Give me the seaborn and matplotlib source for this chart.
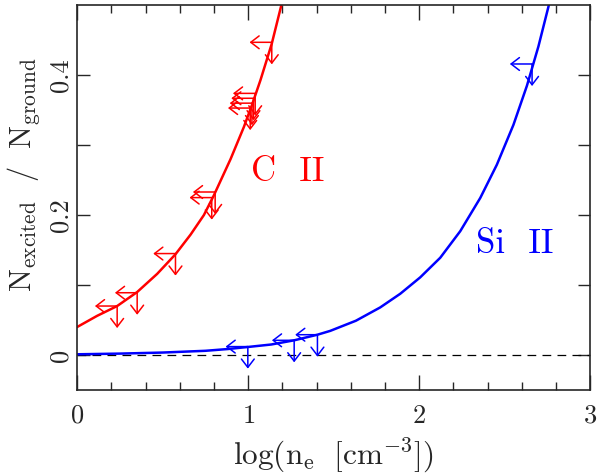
import numpy as np
import matplotlib
matplotlib.use('Agg')
import matplotlib.pyplot as plt
import seaborn as sns

# model curves
c2_x = [0, 0.117, 0.234, 0.351, 0.468, 0.575, 0.663, 0.741, 0.799, 0.897, 0.975, 1.023, 1.072, 1.138, 1.197]
c2_y = [0.040, 0.056, 0.070, 0.090, 0.116, 0.144, 0.172, 0.200, 0.228, 0.280, 0.326, 0.358, 0.393, 0.445, 0.503]
si2_x = [0, 0.25, 0.5, 0.75, 0.88, 1.0, 1.135, 1.269, 1.405, 1.48, 1.63, 1.772, 1.889, 2.006,
         2.123, 2.24, 2.357, 2.454, 2.551, 2.63, 2.697, 2.762]
si2_y = [0.001, 0.002, 0.0035, 0.006, 0.0085, 0.0115, 0.015, 0.021, 0.029, 0.0345, 0.049, 0.068, 0.0875, 0.111,
         0.139, 0.177, 0.2245, 0.272, 0.329, 0.385, 0.441, 0.504]

# upper limits (points)
c2_lim_x = [0.234, 0.351, 0.575, 0.787, 0.807, 1.012, 1.022, 1.031, 1.041, 1.138]
c2_lim_y = [0.070, 0.089, 0.145, 0.225, 0.233, 0.353, 0.360, 0.367, 0.374, 0.447]
si2_lim_x = [0.998, 1.269, 1.405, 2.66]
si2_lim_y = [0.012, 0.021, 0.029, 0.416]

sns.set_style('ticks')
plt.rcParams['font.family'] = 'serif'
plt.rcParams['font.serif'] = ['cmr10', 'DejaVu Serif']
plt.rcParams['mathtext.fontset'] = 'cm'
plt.rcParams['axes.formatter.use_mathtext'] = True

fig = plt.figure(figsize=(5.98, 4.75), dpi=100)
ax = fig.add_axes([0.129, 0.179, 0.858, 0.81])

sns.lineplot(x=c2_x, y=c2_y, color='#ff0000', lw=1.8, ax=ax)
sns.lineplot(x=si2_x, y=si2_y, color='#0000ff', lw=1.8, ax=ax)
ax.axhline(0, color='black', lw=0.9, ls=(0, (7, 5)), zorder=1)

# arrow lengths for the limits
dx, dy = 0.13, 0.0315
def limits(xs, ys, col):
    for x, y in zip(xs, ys):
        for hx, hy in [(x - dx, y), (x, y - dy)]:
            ax.annotate('', xy=(hx, hy), xytext=(x, y),
                        arrowprops=dict(arrowstyle='->,head_length=0.6,head_width=0.46',
                                        color=col, lw=1.1, shrinkA=0, shrinkB=0))

limits(c2_lim_x, c2_lim_y, '#ff0000')
limits(si2_lim_x, si2_lim_y, '#0000ff')

ax.text(1.23, 0.262, 'C  II', color='#ff0000', fontsize=25, ha='center', va='center')
ax.text(2.56, 0.159, 'Si  II', color='#0000ff', fontsize=25, ha='center', va='center')

ax.set_xlim(0, 3)
ax.set_ylim(-0.05, 0.5)
ax.set_xticks([0, 1, 2, 3])
ax.set_xticks(np.arange(0, 3.01, 0.2), minor=True)
ax.set_yticks([0, 0.1, 0.2, 0.3, 0.4], labels=['0', '', '0.2', '', '0.4'])
ax.tick_params(which='both', direction='in', top=True, right=True, width=1, labelsize=19)
ax.tick_params(which='major', axis='x', length=11)
ax.tick_params(which='minor', axis='x', length=6)
ax.tick_params(axis='y', length=9)
ax.tick_params(axis='x', pad=10)
for lab in ax.get_yticklabels():
    lab.set_rotation(90)
    lab.set_va('center')
for sp in ax.spines.values():
    sp.set_linewidth(1.2)

ax.set_xlabel(r'$\mathrm{log(n_e\ \ [cm^{-3}])}$', fontsize=22.5, labelpad=6)
ax.set_ylabel(r'$\mathrm{N_{excited}\ \ /\ \ N_{ground}}$', fontsize=22)
ax.yaxis.set_label_coords(-0.066, 0.56)

fig.savefig('out.png', dpi=100)
